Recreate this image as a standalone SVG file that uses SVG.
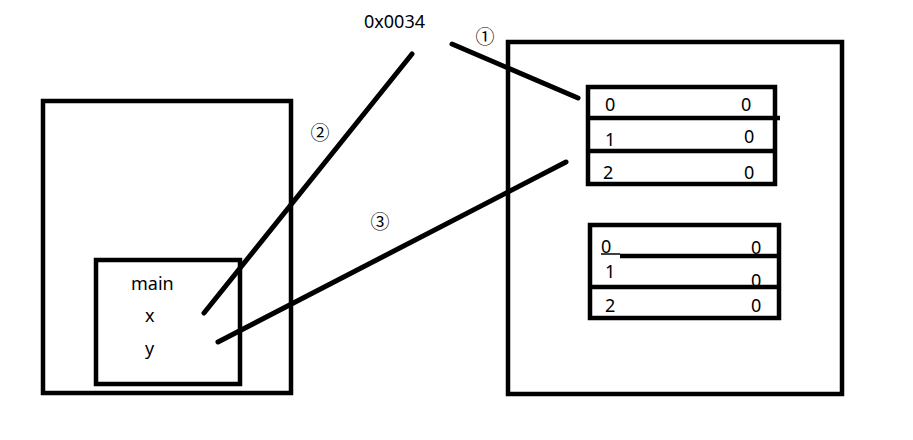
<svg xmlns="http://www.w3.org/2000/svg" width="913" height="440" viewBox="0 0 913 440">
<style>
.box{fill:none;stroke:#000;stroke-width:4.5}
.ln{stroke:#000;stroke-width:5;stroke-linecap:round;fill:none}
.dv{stroke:#000;stroke-width:4.5}
text{font-family:"Noto Sans","Liberation Sans",sans-serif;font-size:18px;fill:#000}
.c{font-family:"Noto Sans CJK SC","DejaVu Sans",sans-serif;font-size:19px}
</style>
<rect width="913" height="440" fill="#fff"/>
<g id="stack">
<rect class="box" x="43" y="101" width="248" height="292"/>
</g>
<g id="main-frame">
<rect class="box" x="96" y="260" width="144" height="124"/>
<text x="131" y="290">main</text>
<text x="145" y="322">x</text>
<text x="145" y="355">y</text>
</g>
<g id="heap">
<rect class="box" x="508" y="42" width="334" height="352"/>
</g>
<g id="array1">
<rect class="box" x="588" y="87" width="187" height="97"/>
<line class="dv" x1="588" y1="118" x2="780" y2="118"/>
<line class="dv" x1="588" y1="151" x2="775" y2="151"/>
<text x="605" y="111">0</text>
<text x="741" y="111">0</text>
<text x="605" y="146">1</text>
<text x="744" y="143">0</text>
<text x="603" y="179">2</text>
<text x="744" y="179">0</text>
</g>
<g id="array2">
<rect class="box" x="590" y="225" width="189" height="93"/>
<line x1="601" y1="254" x2="620" y2="254" stroke="#000" stroke-width="1.5"/>
<line class="dv" x1="620" y1="256" x2="779" y2="256"/>
<line class="dv" x1="590" y1="287" x2="779" y2="287"/>
<text x="601" y="253">0</text>
<text x="751" y="254">0</text>
<text x="605" y="278">1</text>
<text x="751" y="287">0</text>
<text x="605" y="312">2</text>
<text x="751" y="312">0</text>
</g>
<g id="address">
<text x="364" y="28">0x0034</text>
</g>
<g id="connectors">
<line class="ln" x1="452" y1="44" x2="578" y2="98"/>
<line class="ln" x1="412" y1="54" x2="204" y2="313"/>
<line class="ln" x1="566" y1="162" x2="218" y2="342"/>
<text class="c" x="485" y="44" text-anchor="middle">①</text>
<text class="c" x="320" y="140" text-anchor="middle">②</text>
<text class="c" x="380" y="229" text-anchor="middle">③</text>
</g>
</svg>
